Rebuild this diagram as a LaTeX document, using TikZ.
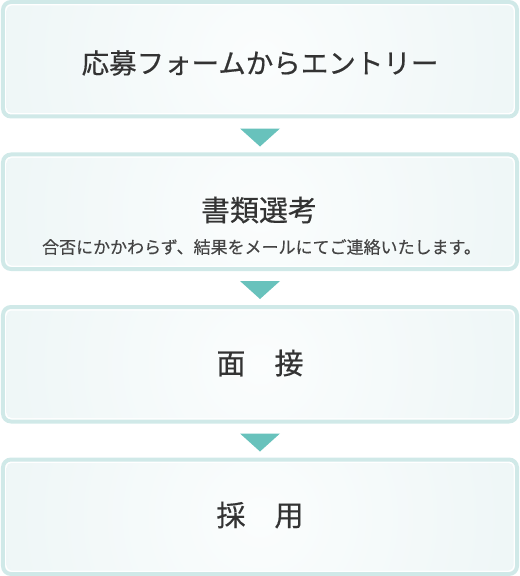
\documentclass[tikz,border=0pt]{standalone}
\usepackage{fontspec}
\newfontfamily\jp[FakeBold=0.5]{Noto Sans CJK JP}
\newfontfamily\jpsub[FakeBold=0.3]{Noto Sans CJK JP}
\usetikzlibrary{calc}
\definecolor{bordercol}{RGB}{208,233,232}
\definecolor{edgecol}{RGB}{224,239,240}
\definecolor{centercol}{RGB}{251,253,253}
\definecolor{arrowcol}{RGB}{104,194,188}
\definecolor{txtcol}{RGB}{51,51,51}
\definecolor{subcol}{RGB}{68,68,68}
\pgfdeclareradialshading{boxshade}{\pgfpoint{0bp}{0bp}}{color(0bp)=(centercol); color(50bp)=(edgecol)}
\tikzset{
  stepbox/.style={draw=bordercol, line width=4bp, fill=white, rounded corners=8bp,
    minimum width=514bp, minimum height=114.5bp, inner sep=0pt,
    path picture={
      \begin{scope}
        \clip[rounded corners=5bp] ($(path picture bounding box.south west)+(3.5bp,3.5bp)$) rectangle ($(path picture bounding box.north east)-(3.5bp,3.5bp)$);
        \shade[shading=boxshade] (path picture bounding box.center) circle (275bp);
      \end{scope}
    }},
  title/.style={font=\jp\fontsize{29bp}{32bp}\selectfont, text=txtcol, inner sep=0pt},
  subtitle/.style={font=\jpsub\fontsize{17bp}{20bp}\selectfont, text=subcol, inner sep=0pt},
  downarrow/.style={fill=arrowcol}
}
\begin{document}
\begin{tikzpicture}[x=1bp,y=-1bp]
\useasboundingbox (0,0) rectangle (520,576);
\node[stepbox] (b1) at (260,59.25) {};
\node[stepbox] (b2) at (260,211.75) {};
\node[stepbox] (b3) at (260,364.25) {};
\node[stepbox] (b4) at (260,516.75) {};
\node[title, font=\jp\fontsize{27.5bp}{30bp}\selectfont] (t1) at (260,63) {応募フォームからエントリー};
\node[title] (t2) at (259,210) {書類選考};
\node[subtitle] (s2) at (261.5,247) {合否にかかわらず、結果をメールにてご連絡いたします。};
\node[title] (t3) at (260,363) {面　接};
\node[title] (t4) at (260,515) {採　用};
\foreach \b in {b1,b2,b3}{
  \fill[downarrow] ($(\b.south)+(-20bp,-10bp)$) -- ($(\b.south)+(20bp,-10bp)$) -- ($(\b.south)+(0bp,-28bp)$) -- cycle;
}
\end{tikzpicture}
\end{document}
